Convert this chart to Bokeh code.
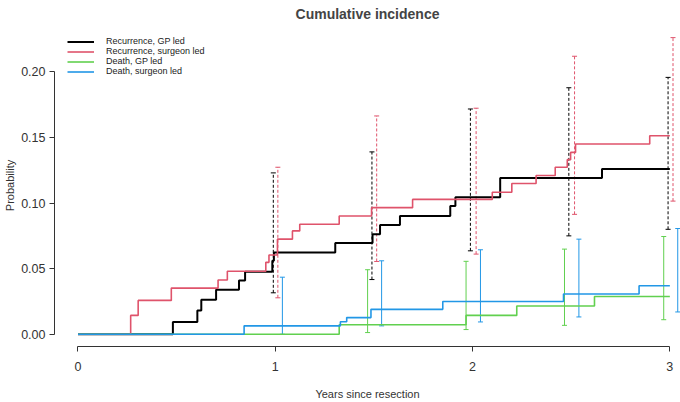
from bokeh.plotting import figure
from bokeh.models import (ColumnDataSource, Whisker, TeeHead, Range1d,
                          FixedTicker, NumeralTickFormatter, Legend)
from bokeh.embed import file_html
from bokeh.resources import INLINE

# ---- data ----
rec_gp_t = [0, 0.481, 0.605, 0.625, 0.700, 0.816, 0.847, 0.985, 0.993, 1.304,
            1.493, 1.531, 1.632, 1.887, 1.913, 2.140, 2.656, 3.0]
rec_gp_y = [0, 0.0094, 0.0182, 0.0263, 0.0339, 0.0409, 0.0477, 0.0560, 0.0624, 0.0695,
            0.0763, 0.0833, 0.0902, 0.0977, 0.1045, 0.1192, 0.1260, 0.1260]

rec_sg_t = [0, 0.267, 0.305, 0.473, 0.710, 0.757, 0.952, 0.968, 1.011, 1.087, 1.124,
            1.324, 1.488, 1.696, 2.100, 2.199, 2.322, 2.419, 2.480, 2.497, 2.522,
            2.898, 3.0]
rec_sg_y = [0, 0.0144, 0.0258, 0.0352, 0.0414, 0.0480, 0.0548, 0.0604, 0.0725, 0.0788,
            0.0839, 0.0902, 0.0965, 0.1028, 0.1083, 0.1149, 0.1210, 0.1273, 0.1331,
            0.1386, 0.1450, 0.1513, 0.1513]

death_gp_t = [0, 1.324, 1.967, 2.224, 2.618, 3.0]
death_gp_y = [0, 0.0073, 0.0144, 0.0215, 0.0288, 0.0288]

death_sg_t = [0, 0.842, 1.330, 1.362, 1.485, 1.849, 2.461, 2.844, 3.0]
death_sg_y = [0, 0.0064, 0.0095, 0.0127, 0.0190, 0.0250, 0.0307, 0.0370, 0.0370]

# confidence intervals
ci_rec_gp_x = [0.990, 1.490, 1.989, 2.488, 2.991]
ci_rec_gp_hi = [0.1230, 0.1390, 0.1717, 0.1879, 0.1958]
ci_rec_gp_lo = [0.0316, 0.0417, 0.0636, 0.0750, 0.0800]

ci_rec_sg_x = [1.013, 1.514, 2.018, 2.517, 3.016]
ci_rec_sg_hi = [0.1273, 0.1664, 0.1723, 0.2119, 0.2261]
ci_rec_sg_lo = [0.0278, 0.0555, 0.0611, 0.0914, 0.1015]

ci_death_gp_x = [1.468, 1.967, 2.466, 2.969]
ci_death_gp_hi = [0.0492, 0.0556, 0.0649, 0.0745]
ci_death_gp_lo = [0.0013, 0.0036, 0.0068, 0.0111]

ci_death_sg_x = [1.036, 1.539, 2.040, 2.539, 3.040]
ci_death_sg_hi = [0.0435, 0.0560, 0.0644, 0.0725, 0.0806]
ci_death_sg_lo = [0.0, 0.0064, 0.0094, 0.0132, 0.0170]

labels = ["Recurrence, GP led", "Recurrence, surgeon led", "Death, GP led", "Death, surgeon led"]
colors = ["#000000", "#DF536B", "#61D04F", "#2297E6"]

x_ticks = [0, 1, 2, 3]
y_ticks = [0.0, 0.05, 0.10, 0.15, 0.20]

# ---- figure ----
p = figure(width=680, height=402, output_backend="svg", toolbar_location=None,
           x_range=Range1d(-0.1191, 3.054), y_range=Range1d(-0.00932, 0.2361),
           min_border_left=54, min_border_right=0, min_border_top=24,
           min_border_bottom=54, title="Cumulative incidence")
p.title.align = "center"
p.title.text_font = "Liberation Sans"
p.title.text_font_size = "14px"
p.title.text_font_style = "bold"
p.title.standoff = 5
p.outline_line_color = None
p.xgrid.visible = False
p.ygrid.visible = False
p.background_fill_color = "white"

for ax in (p.xaxis[0], p.yaxis[0]):
    ax.axis_line_color = "#333333"
    ax.major_tick_line_color = "#333333"
    ax.minor_tick_line_color = None
    ax.major_tick_in = 0
    ax.major_tick_out = 5
    ax.major_label_text_font = "Liberation Sans"
    ax.major_label_text_font_size = "12.5px"
    ax.major_label_text_color = "#333333"
    ax.axis_label_text_font = "Liberation Sans"
    ax.axis_label_text_font_size = "11px"
    ax.axis_label_text_font_style = "normal"
    ax.axis_label_text_color = "#333333"

p.xaxis.ticker = FixedTicker(ticks=x_ticks)
p.yaxis.ticker = FixedTicker(ticks=y_ticks)
p.yaxis.formatter = NumeralTickFormatter(format="0.00")
p.xaxis.bounds = (0, 3)
p.yaxis.bounds = (0, 0.2)
p.xaxis.axis_label = "Years since resection"
p.yaxis.axis_label = "Probability"
p.xaxis.major_label_standoff = 10
p.xaxis.axis_label_standoff = 14
p.yaxis.major_label_standoff = 4
p.yaxis.axis_label_standoff = 2

# ---- step curves ----
r0 = p.step(rec_gp_t, rec_gp_y, mode="after", line_color=colors[0], line_width=2)
r1 = p.step(rec_sg_t, rec_sg_y, mode="after", line_color=colors[1], line_width=1.6)
r2 = p.step(death_gp_t, death_gp_y, mode="after", line_color=colors[2], line_width=1.6)
r3 = p.step(death_sg_t, death_sg_y, mode="after", line_color=colors[3], line_width=1.6)

# ---- confidence interval bars ----
def add_ci(xs, lo, hi, color, dash):
    src = ColumnDataSource(dict(x=xs, lo=lo, hi=hi))
    w = Whisker(base="x", lower="lo", upper="hi", source=src, dimension="height",
                line_color=color, line_width=1, line_dash=dash,
                upper_head=TeeHead(size=5, line_color=color, line_width=1),
                lower_head=TeeHead(size=5, line_color=color, line_width=1))
    p.add_layout(w)

add_ci(ci_rec_gp_x, ci_rec_gp_lo, ci_rec_gp_hi, colors[0], "3 2")
add_ci(ci_rec_sg_x, ci_rec_sg_lo, ci_rec_sg_hi, colors[1], "3 2")
add_ci(ci_death_gp_x, ci_death_gp_lo, ci_death_gp_hi, colors[2], "solid")
add_ci(ci_death_sg_x, ci_death_sg_lo, ci_death_sg_hi, colors[3], "solid")

# ---- legend ----
legend = Legend(items=[(labels[0], [r0]), (labels[1], [r1]), (labels[2], [r2]), (labels[3], [r3])],
                location=(13, 270))
legend.label_text_font = "Liberation Sans"
legend.label_text_font_size = "9px"
legend.label_text_color = "#222222"
legend.label_height = 9
legend.glyph_height = 9
legend.glyph_width = 27
legend.label_standoff = 12
legend.spacing = 0
legend.padding = 0
legend.margin = 0
legend.border_line_alpha = 0
legend.background_fill_alpha = 0
p.add_layout(legend)

open("out.html", "w").write(file_html(p, INLINE))
